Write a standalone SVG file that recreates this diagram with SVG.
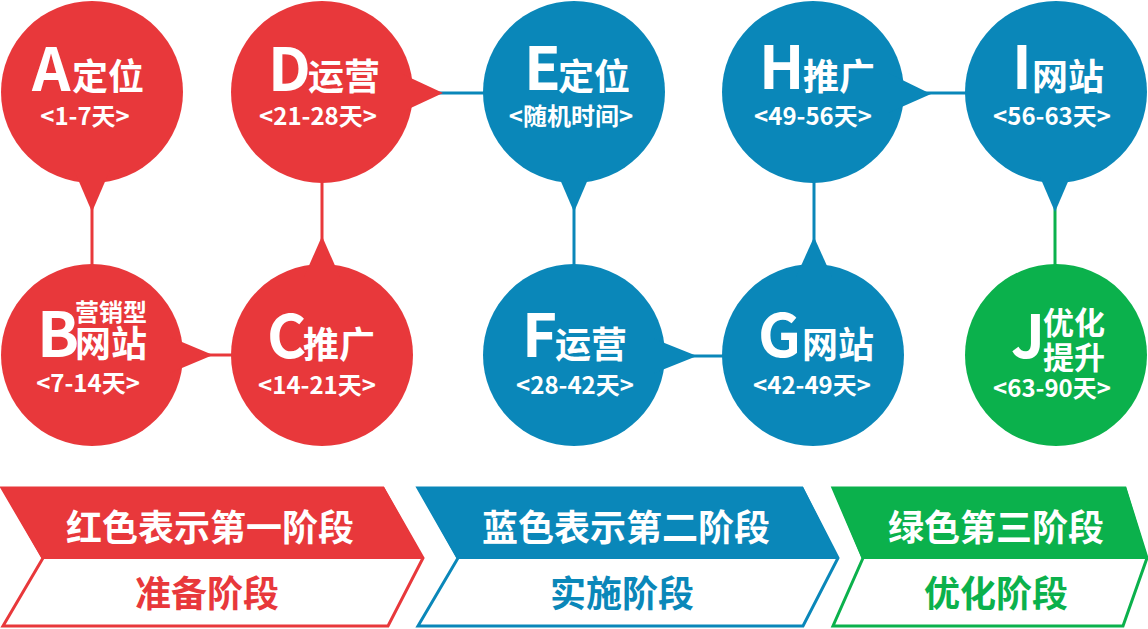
<svg xmlns="http://www.w3.org/2000/svg" width="1148" height="629" viewBox="0 0 1148 629">
<style>
text{font-family:"Noto Sans CJK SC","Noto Sans",sans-serif;font-weight:700;}
.w{fill:#fff;}
.big{font-size:60px;}
.cn{font-size:36px;}
.sub{font-size:24px;text-anchor:middle;}
.ban{font-size:36px;text-anchor:middle;}
.r{fill:#E8383B;}
.b{fill:#0A87B9;}
.g{fill:#0BB14C;}
.lr{stroke:#E8383B;stroke-width:3;fill:none;}
.lb{stroke:#0A87B9;stroke-width:3;fill:none;}
.lg{stroke:#0BB14C;stroke-width:3;fill:none;}
</style>
<rect width="1148" height="629" fill="#fff"/>
<g id="connectors">
<line class="lr" x1="92" y1="205" x2="92" y2="266"/>
<line class="lr" x1="322" y1="180" x2="322" y2="240"/>
<line class="lr" x1="205" y1="355" x2="233" y2="355"/>
<line class="lb" x1="438" y1="93" x2="485" y2="93"/>
<line class="lb" x1="574" y1="205" x2="574" y2="266"/>
<line class="lb" x1="690" y1="356" x2="724" y2="356"/>
<line class="lb" x1="814" y1="180" x2="814" y2="242"/>
<line class="lb" x1="925" y1="93" x2="967" y2="93"/>
<line class="lg" x1="1055" y1="205" x2="1055" y2="266"/>
</g>
<g id="nodeA">
<circle class="r" cx="92" cy="92" r="91"/>
<polygon class="r" points="74,170 110,170 92,212"/>
<text class="w big" x="32" y="91">A</text>
<text class="w cn" x="72" y="90">定位</text>
<text class="w sub" x="85" y="125">&lt;1-7天&gt;</text>
</g>
<g id="nodeB">
<circle class="r" cx="92" cy="355" r="91"/>
<polygon class="r" points="170,337 170,373 213,355"/>
<text class="w" x="37" y="357" style="font-size:62px">B</text>
<text class="w" x="75" y="321" style="font-size:24px">营销型</text>
<text class="w cn" x="75" y="357">网站</text>
<text class="w sub" x="88" y="392">&lt;7-14天&gt;</text>
</g>
<g id="nodeC">
<circle class="r" cx="322" cy="355" r="91"/>
<polygon class="r" points="304,277 340,277 322,236"/>
<text class="w big" x="267" y="358">C</text>
<text class="w cn" x="303" y="358">推广</text>
<text class="w sub" x="317" y="394">&lt;14-21天&gt;</text>
</g>
<g id="nodeD">
<circle class="r" cx="322" cy="92" r="91"/>
<polygon class="r" points="400,73 400,113 443,93"/>
<text class="w big" x="268" y="91">D</text>
<text class="w cn" x="308" y="90">运营</text>
<text class="w sub" x="318" y="125">&lt;21-28天&gt;</text>
</g>
<g id="nodeE">
<circle class="b" cx="574" cy="92" r="91"/>
<polygon class="b" points="556,170 592,170 574,212"/>
<text class="w big" x="524" y="90">E</text>
<text class="w cn" x="558" y="90">定位</text>
<text class="w sub" x="571" y="125">&lt;随机时间&gt;</text>
</g>
<g id="nodeF">
<circle class="b" cx="574" cy="355" r="91"/>
<polygon class="b" points="652,338 652,374 697,356"/>
<text class="w big" x="522" y="357">F</text>
<text class="w cn" x="555" y="358">运营</text>
<text class="w sub" x="575" y="394">&lt;28-42天&gt;</text>
</g>
<g id="nodeG">
<circle class="b" cx="813" cy="355" r="91"/>
<polygon class="b" points="796,277 832,277 814,237"/>
<text class="w big" x="758" y="357">G</text>
<text class="w cn" x="802" y="358">网站</text>
<text class="w sub" x="812" y="394">&lt;42-49天&gt;</text>
</g>
<g id="nodeH">
<circle class="b" cx="813" cy="92" r="91"/>
<polygon class="b" points="888,73 888,113 931,94"/>
<text class="w big" x="759" y="89">H</text>
<text class="w cn" x="803" y="90">推广</text>
<text class="w sub" x="813" y="125">&lt;49-56天&gt;</text>
</g>
<g id="nodeI">
<circle class="b" cx="1056" cy="92" r="91"/>
<polygon class="b" points="1037,170 1073,170 1055,212"/>
<text class="w big" x="1012" y="89">I</text>
<text class="w cn" x="1032" y="90">网站</text>
<text class="w sub" x="1052" y="125">&lt;56-63天&gt;</text>
</g>
<g id="nodeJ">
<circle class="g" cx="1056" cy="355" r="91"/>
<text class="w big" x="1011" y="358">J</text>
<text class="w" x="1043" y="334" style="font-size:31px">优化</text>
<text class="w" x="1043" y="369" style="font-size:31px">提升</text>
<text class="w sub" x="1052" y="397">&lt;63-90天&gt;</text>
</g>
<g id="stage1">
<polygon points="2,488 383,488 423,558 388,626 3,626 43,558" fill="#fff" stroke="#E8383B" stroke-width="3"/>
<polygon class="r" points="1,487 384,487 424,559 42,559"/>
<text class="w ban" x="210" y="541">红色表示第一阶段</text>
<text class="r ban" x="207" y="607">准备阶段</text>
</g>
<g id="stage2">
<polygon points="418,488 802,488 838,558 803,626 418,626 458,558" fill="#fff" stroke="#0A87B9" stroke-width="3"/>
<polygon class="b" points="417,487 803,487 839,559 457,559"/>
<text class="w ban" x="626" y="541">蓝色表示第二阶段</text>
<text class="b ban" x="622" y="607">实施阶段</text>
</g>
<g id="stage3">
<polygon points="833,488 1125,488 1147,558 1123,626 833,626 863,558" fill="#fff" stroke="#0BB14C" stroke-width="3"/>
<polygon class="g" points="832,487 1126,487 1148,559 862,559"/>
<text class="w ban" x="996" y="541">绿色第三阶段</text>
<text class="g ban" x="996" y="607">优化阶段</text>
</g>
</svg>
